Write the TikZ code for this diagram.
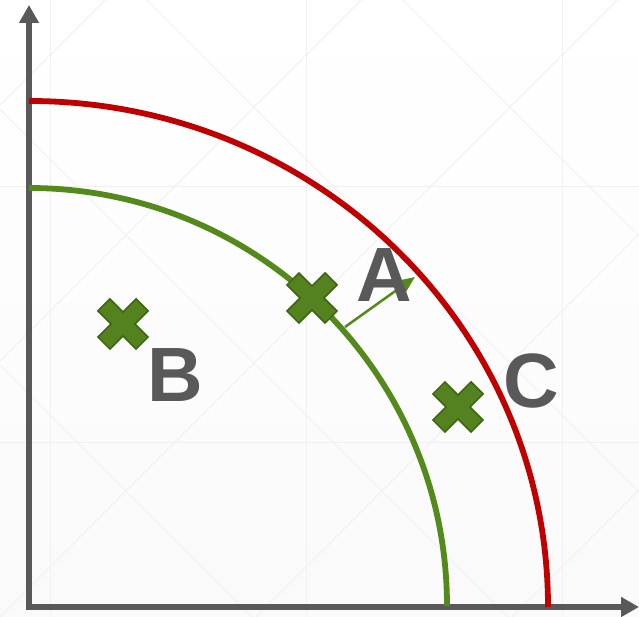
\documentclass[tikz,border=0pt]{standalone}
\usepackage{fontspec}
\setmainfont{Liberation Sans}
\usetikzlibrary{arrows.meta}
\definecolor{axisgray}{HTML}{595959}
\definecolor{ppfred}{HTML}{C00000}
\definecolor{ppfgreen}{HTML}{548A1C}
\definecolor{markgreen}{HTML}{54821E}
\definecolor{markedge}{HTML}{3D6612}
\definecolor{gridgray}{HTML}{F1F1F1}

\begin{document}
\begin{tikzpicture}[x=1pt,y=1pt,
  axis/.style={draw=axisgray,line width=6pt,-{Triangle[length=18pt,width=19pt]}},
  curve/.style={line width=5.8pt},
  letter/.style={inner sep=0pt,text=axisgray,font=\fontsize{77}{77}\selectfont\bfseries},
  bg/.style={draw=gridgray,line width=1pt},
  xmark/.pic={
    \fill[markgreen,draw=markedge,line width=1.5pt,rotate=45]
      (8.5,27) -- (8.5,8.5) -- (27,8.5) -- (27,-8.5) -- (8.5,-8.5) -- (8.5,-27)
      -- (-8.5,-27) -- (-8.5,-8.5) -- (-27,-8.5) -- (-27,8.5) -- (-8.5,8.5) -- (-8.5,27) -- cycle;
  }
]
\useasboundingbox (0,0) rectangle (639,617);
\shade[top color=white,bottom color=gray!4] (0,0) rectangle (639,617);

% faint background pattern
\begin{scope}
\clip (0,0) rectangle (639,617);
\foreach \gx in {50,306,562} \draw[bg] (\gx,0) -- (\gx,617);
\foreach \gy in {174,430} \draw[bg] (0,\gy) -- (639,\gy);
\foreach \k in {-3,...,3} {
  \draw[bg] (-400+256*\k,-400) -- ++(1500,1500);
  \draw[bg] (-400+256*\k+64,1100) -- ++(1500,-1500);
}
\end{scope}

% axes
\coordinate (O) at (29,10);
\coordinate (ytop) at (29,612);
\coordinate (xend) at (639,10);
\draw[axis] ([yshift=-3pt]O) -- (ytop);
\draw[axis] ([xshift=-3pt]O) -- (xend);

% frontiers
\draw[curve,ppfred] (29,516) arc[start angle=90,end angle=0,x radius=519,y radius=506];
\draw[curve,ppfgreen] (29,429) arc[start angle=90,end angle=0,radius=418];

% shift arrow
\coordinate (shiftA) at (345,290);
\coordinate (shiftB) at (415,340);
\draw[ppfgreen,line width=2.5pt,-{Triangle[length=17pt,width=14pt]}] (shiftA) -- (shiftB);

% points
\pic at (312,319) {xmark};
\pic at (123,293) {xmark};
\pic at (458,210) {xmark};
\node[letter] (labA) at (384,342) {A};
\node[letter] (labB) at (175,242) {B};
\node[letter] (labC) at (531,236) {C};
\end{tikzpicture}
\end{document}
